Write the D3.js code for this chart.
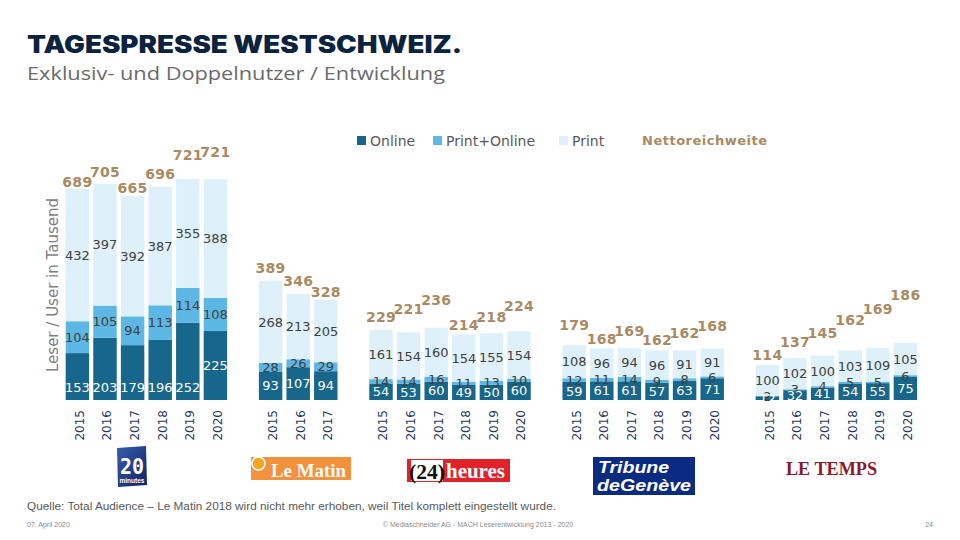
<!DOCTYPE html>
<html><head><meta charset="utf-8">
<script src="https://cdn.jsdelivr.net/npm/d3@7/dist/d3.min.js"></script>
<style>body{margin:0;background:#fff}svg{display:block}</style>
</head><body>
<svg id="chart" width="960" height="540"></svg>
<script>
// ---------- DATA ----------
const papers = ["20 minutes", "Le Matin", "24 heures", "Tribune de Genève", "Le Temps"];
const years = [
  ["2015","2016","2017","2018","2019","2020"],
  ["2015","2016","2017"],
  ["2015","2016","2017","2018","2019","2020"],
  ["2015","2016","2017","2018","2019","2020"],
  ["2015","2016","2017","2018","2019","2020"]
];
const online = [
  [153,203,179,196,252,225],
  [93,107,94],
  [54,53,60,49,50,60],
  [59,61,61,57,63,71],
  [12,32,41,54,55,75]
];
const printOnline = [
  [104,105,94,113,114,108],
  [28,26,29],
  [14,14,16,11,13,10],
  [12,11,14,9,8,6],
  [2,3,4,5,5,6]
];
const printOnly = [
  [432,397,392,387,355,388],
  [268,213,205],
  [161,154,160,154,155,154],
  [108,96,94,96,91,91],
  [100,102,100,103,109,105]
];
const netReach = [
  [689,705,665,696,721,721],
  [389,346,328],
  [229,221,236,214,218,224],
  [179,168,169,162,162,168],
  [114,137,145,162,169,186]
];
const seriesNames = ["Online", "Print+Online", "Print"];
const netName = "Nettoreichweite";

// ---------- LAYOUT TWEAKS (label nudges as in reference) ----------
const netLabelLift = [
  [7,12,8,13,24,27],
  [13,13,8],
  [13,23,28,9,16,25],
  [20,10,17,10,17,23],
  [10,16,23,30,39,48]
];
const onlineLabelAtBase = [
  [true,true,true,true,true,false],
  [false,false,false],
  [false,false,false,false,false,false],
  [false,false,false,false,false,false],
  [false,false,false,false,false,false]
];

const colors = { online: "#17668b", po: "#5cb7e4", print: "#def0f9", net: "#a98a62" };

const svg = d3.select("#chart");

// ---------- TITLE ----------
svg.append("text").attr("x", 27).attr("y", 53)
  .attr("font-family", "Inter, 'DejaVu Sans', sans-serif").attr("font-weight", 900)
  .attr("font-size", 24).attr("fill", "#0c2340")
  .attr("textLength", 435).attr("lengthAdjust", "spacingAndGlyphs")
  .text("TAGESPRESSE WESTSCHWEIZ.");
svg.append("text").attr("x", 27).attr("y", 80)
  .attr("font-family", "'Open Sans', Lato, sans-serif")
  .attr("font-size", 18).attr("fill", "#6b6b6b")
  .attr("textLength", 418).attr("lengthAdjust", "spacingAndGlyphs")
  .text("Exklusiv- und Doppelnutzer / Entwicklung");

// ---------- SCALES ----------
const slots = [];
papers.forEach((p, pi) => {
  years[pi].forEach((yr, i) => slots.push(pi + "-" + i));
  if (pi < papers.length - 1) slots.push("gap" + pi);
});
const x = d3.scaleBand().domain(slots).range([63.6, 919.2]).paddingInner(0.15).paddingOuter(0.075);
const y = d3.scaleLinear().domain([0, 721]).range([400, 179]);

const rows = [];
papers.forEach((p, pi) => years[pi].forEach((yr, i) => rows.push({
  pi, i, key: pi + "-" + i, year: yr,
  on: online[pi][i], po: printOnline[pi][i], pr: printOnly[pi][i], net: netReach[pi][i]
})));

const g = svg.append("g");
const bw = x.bandwidth();
const cx = d => x(d.key) + bw / 2;

// bars
g.selectAll("rect.on").data(rows).join("rect").attr("class","on")
  .attr("x", d => x(d.key)).attr("width", bw)
  .attr("y", d => y(d.on)).attr("height", d => y(0) - y(d.on)).attr("fill", colors.online);
g.selectAll("rect.po").data(rows).join("rect").attr("class","po")
  .attr("x", d => x(d.key)).attr("width", bw)
  .attr("y", d => y(d.on + d.po)).attr("height", d => y(d.on) - y(d.on + d.po)).attr("fill", colors.po);
g.selectAll("rect.pr").data(rows).join("rect").attr("class","pr")
  .attr("x", d => x(d.key)).attr("width", bw)
  .attr("y", d => y(d.on + d.po + d.pr)).attr("height", d => y(d.on + d.po) - y(d.on + d.po + d.pr)).attr("fill", colors.print);

const lblFont = "'DejaVu Sans', Verdana, sans-serif";
// print labels
g.selectAll("text.pr").data(rows).join("text").attr("class","pr")
  .attr("x", cx).attr("y", d => (y(d.on + d.po) + y(d.on + d.po + d.pr)) / 2)
  .attr("dy", "0.36em").attr("text-anchor", "middle")
  .attr("font-family", lblFont).attr("font-size", 13).attr("fill", "#404040")
  .text(d => d.pr);
// print+online labels
g.selectAll("text.po").data(rows).join("text").attr("class","po")
  .attr("x", cx).attr("y", d => (y(d.on) + y(d.on + d.po)) / 2)
  .attr("dy", "0.36em").attr("text-anchor", "middle")
  .attr("font-family", lblFont).attr("font-size", 13).attr("fill", "#404040")
  .text(d => d.po);
// online labels
g.selectAll("text.on").data(rows).join("text").attr("class","on")
  .attr("x", cx).attr("y", d => onlineLabelAtBase[d.pi][d.i] ? y(0) - 13 : (y(0) + y(d.on)) / 2)
  .attr("dy", "0.36em").attr("text-anchor", "middle")
  .attr("font-family", lblFont).attr("font-size", 13).attr("fill", "#ffffff")
  .text(d => d.on);
// net labels
g.selectAll("text.net").data(rows).join("text").attr("class","net")
  .attr("x", cx).attr("y", d => y(d.net) - netLabelLift[d.pi][d.i])
  .attr("dy", "0.36em").attr("text-anchor", "middle")
  .attr("font-family", lblFont).attr("font-weight", "bold").attr("font-size", 14)
  .attr("letter-spacing", 0.3).attr("fill", colors.net)
  .text(d => d.net);
// year labels
g.selectAll("text.yr").data(rows).join("text").attr("class","yr")
  .attr("transform", d => `translate(${cx(d) + 2},${y(0) + 10}) rotate(-90)`)
  .attr("dy", "0.36em").attr("text-anchor", "end")
  .attr("font-family", lblFont).attr("font-size", 12).attr("fill", "#1f3a5c")
  .text(d => d.year);

// y-axis title
svg.append("text").attr("transform", "translate(53,285) rotate(-90)")
  .attr("dy", "0.36em").attr("text-anchor", "middle")
  .attr("font-family", lblFont).attr("font-size", 15).attr("fill", "#7f7f7f")
  .attr("textLength", 174).attr("lengthAdjust", "spacingAndGlyphs")
  .text("Leser / User in Tausend");

// ---------- LEGEND ----------
const legX = [357, 433, 559];
const legCols = [colors.online, colors.po, colors.print];
const leg = svg.append("g");
seriesNames.forEach((n, k) => {
  leg.append("rect").attr("x", legX[k]).attr("y", 136).attr("width", 9).attr("height", 9).attr("fill", legCols[k]);
  leg.append("text").attr("x", legX[k] + 13).attr("y", 140.5).attr("dy", "0.36em")
    .attr("font-family", lblFont).attr("font-size", 14).attr("fill", "#595959").text(n);
});
leg.append("text").attr("x", 642).attr("y", 140).attr("dy", "0.36em")
  .attr("font-family", lblFont).attr("font-weight", "bold").attr("font-size", 13)
  .attr("letter-spacing", 0.5).attr("fill", colors.net).text(netName);

// ---------- LOGOS ----------
const logos = svg.append("g");
// 20 minutes
const grad = svg.append("defs").append("linearGradient").attr("id","g20").attr("x1",0).attr("y1",0).attr("x2",1).attr("y2",1);
grad.append("stop").attr("offset","0%").attr("stop-color","#3a5db0");
grad.append("stop").attr("offset","100%").attr("stop-color","#0d2262");
logos.append("path").attr("d","M117,448 L146,446 L147,485 L118,487 Z").attr("fill","url(#g20)");
logos.append("text").attr("x",132).attr("y",474).attr("text-anchor","middle")
  .attr("font-family","'DejaVu Sans Mono', monospace").attr("font-weight","bold").attr("font-size",22)
  .attr("fill","#fff").attr("textLength",24).attr("lengthAdjust","spacingAndGlyphs").text("20");
logos.append("text").attr("x",132).attr("y",483).attr("text-anchor","middle")
  .attr("font-family","'Liberation Sans', sans-serif").attr("font-weight","bold").attr("font-size",6.5)
  .attr("fill","#fff").text("minutes");
// Le Matin
logos.append("rect").attr("x",251).attr("y",457).attr("width",100).attr("height",23).attr("fill","#f4913d");
logos.append("circle").attr("cx",258.5).attr("cy",463.5).attr("r",6.5).attr("fill","#f7a51f").attr("stroke","#fff").attr("stroke-width",1.6);
logos.append("text").attr("x",271).attr("y",477).attr("font-family","'Liberation Serif', serif").attr("font-weight","bold")
  .attr("font-size",19).attr("fill","#fff").attr("textLength",75).attr("lengthAdjust","spacingAndGlyphs").text("Le Matin");
// 24 heures
logos.append("rect").attr("x",407).attr("y",459).attr("width",103).attr("height",23).attr("fill","#e2222b");
logos.append("rect").attr("x",411).attr("y",460).attr("width",32).attr("height",21).attr("fill","#fff");
logos.append("text").attr("x",409).attr("y",479).attr("font-family","'Liberation Serif', serif").attr("font-weight","bold")
  .attr("font-size",22).attr("fill","#111").attr("textLength",36).attr("lengthAdjust","spacingAndGlyphs").text("(24)");
logos.append("text").attr("x",446).attr("y",478).attr("font-family","'Liberation Serif', serif").attr("font-weight","bold")
  .attr("font-size",20).attr("fill","#fff").attr("textLength",59).attr("lengthAdjust","spacingAndGlyphs").text("heures");
// Tribune de Genève
logos.append("rect").attr("x",593).attr("y",457).attr("width",102).attr("height",38).attr("fill","#0b2a82");
logos.append("text").attr("x",598).attr("y",473).attr("font-family","'Liberation Sans', sans-serif").attr("font-weight","bold")
  .attr("font-style","italic").attr("font-size",17).attr("fill","#fff").attr("textLength",71).attr("lengthAdjust","spacingAndGlyphs").text("Tribune");
logos.append("text").attr("x",597).attr("y",491).attr("font-family","'Liberation Sans', sans-serif").attr("font-weight","bold")
  .attr("font-style","italic").attr("font-size",17).attr("fill","#fff").attr("textLength",94).attr("lengthAdjust","spacingAndGlyphs").text("deGenève");
// Le Temps
logos.append("text").attr("x",786).attr("y",475).attr("font-family","'Liberation Serif', serif").attr("font-weight","bold")
  .attr("font-size",19).attr("fill","#8c1a2c").attr("textLength",91).attr("lengthAdjust","spacingAndGlyphs").text("LE TEMPS");

// ---------- FOOTER ----------
svg.append("text").attr("x",27).attr("y",510).attr("font-family","'Liberation Sans Narrow', 'Liberation Sans', sans-serif")
  .attr("font-size",10).attr("fill","#595959").attr("textLength",529).attr("lengthAdjust","spacingAndGlyphs")
  .text("Quelle: Total Audience – Le Matin 2018 wird nicht mehr erhoben, weil Titel komplett eingestellt wurde.");
svg.append("text").attr("x",27).attr("y",527).attr("font-family","'Liberation Sans', sans-serif")
  .attr("font-size",7).attr("fill","#8c8c8c").text("07. April 2020");
svg.append("text").attr("x",478).attr("y",527).attr("text-anchor","middle").attr("font-family","'Liberation Sans', sans-serif")
  .attr("font-size",7).attr("fill","#8c8c8c").text("© Mediaschneider AG  -  MACH Leserentwicklung 2013 - 2020");
svg.append("text").attr("x",933).attr("y",527).attr("text-anchor","end").attr("font-family","'Liberation Sans', sans-serif")
  .attr("font-size",7).attr("fill","#8c8c8c").text("24");
</script>
</body></html>
